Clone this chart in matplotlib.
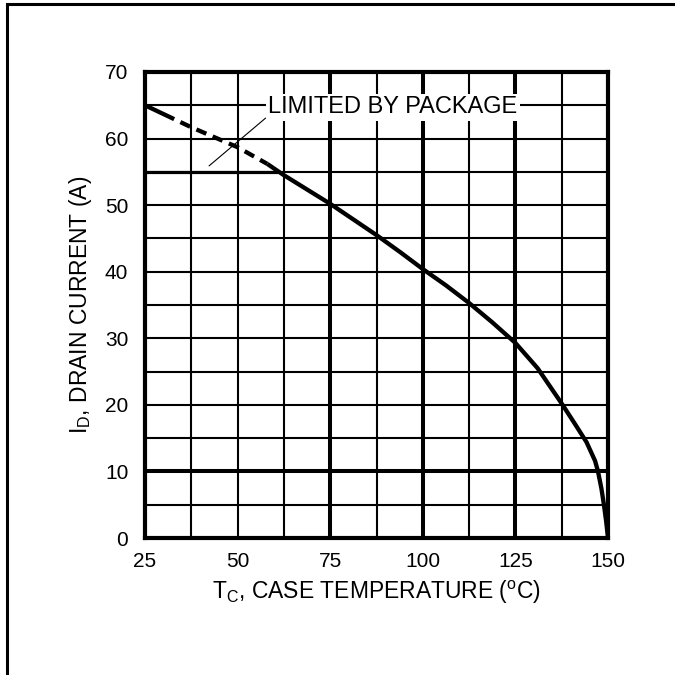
import numpy as np
import matplotlib

matplotlib.use("Agg")
import matplotlib.pyplot as plt
from matplotlib.patches import Rectangle

plt.rcParams["font.family"] = ["Liberation Sans", "DejaVu Sans"]
plt.rcParams["mathtext.default"] = "regular"

# derating curve
temp_dash = [25, 37.5, 50, 58]
cur_dash = [65, 61.7, 58.7, 56.2]
temp_solid = [58, 62.5, 75, 87.5, 93.75, 100, 106.25, 112.5, 118.75, 125, 131, 137.5,
              141, 144.2, 146.5, 147.3, 148.2, 148.9, 149.5, 150]
cur_solid = [56.2, 54.5, 50.2, 45.5, 43.0, 40.4, 37.95, 35.3, 32.4, 29.3, 25.5, 20.2,
             17.2, 14.4, 11.6, 10, 7.5, 5, 2.5, 0]
pkg_limit = 55
pkg_end = 60.5

x_ticks = [25, 50, 75, 100, 125, 150]
y_ticks = [0, 10, 20, 30, 40, 50, 60, 70]
x_grid = np.arange(25, 150.1, 12.5)
y_grid = np.arange(0, 70.1, 5)
x_thick = [75, 100, 125]
y_thick = [10]

fig = plt.figure(figsize=(6.75, 6.75), dpi=100)
ax = fig.add_axes([145 / 675, 1 - 538 / 675, (608 - 145) / 675, (538 - 72) / 675])
ax.set_xlim(25, 150)
ax.set_ylim(0, 70)

for gx in x_grid[1:-1]:
    ax.axvline(gx, color="black", lw=2.9 if gx in x_thick else 1.5, zorder=1)
for gy in y_grid[1:-1]:
    ax.axhline(gy, color="black", lw=2.9 if gy in y_thick else 1.5, zorder=1)

ax.plot([25, pkg_end], [pkg_limit, pkg_limit], color="black", lw=2.3, zorder=2)
ax.plot(temp_dash, cur_dash, color="black", lw=3.1,
        ls=(0, (7.5, 1.6, 2.5, 1.6, 2.5, 1.6, 2.5, 1.6, 2.5, 1.6, 2.5, 1.6)), zorder=3)
ax.plot(temp_solid, cur_solid, color="black", lw=3.1, zorder=3, solid_capstyle="butt")

ax.annotate("LIMITED BY PACKAGE", xy=(42.3, 55.9), xytext=(58.2, 64.7),
            fontsize=17, va="center", ha="left",
            bbox=dict(boxstyle="square,pad=0.1", fc="white", ec="none"),
            arrowprops=dict(arrowstyle="-", color="black", lw=0.8,
                            shrinkA=0, shrinkB=0, relpos=(0.0, 0.1)),
            zorder=4)

for sp in ax.spines.values():
    sp.set_linewidth(3)
ax.set_xticks(x_ticks)
ax.set_yticks(y_ticks)
ax.tick_params(length=0, labelsize=15, pad=10)
ax.tick_params(axis="y", pad=12)

ax.set_xlabel(r"T$_{C}$, CASE TEMPERATURE ($^{o}$C)", fontsize=16.5, labelpad=6)
ax.set_ylabel(r"I$_{D}$, DRAIN CURRENT (A)", fontsize=16.5, labelpad=8)

# outer frame of the datasheet figure
fig.patches.append(Rectangle((6.5 / 675, -0.1), 1.2, 1.1 - 4 / 675,
                             transform=fig.transFigure, fill=False,
                             ec="black", lw=2.2, clip_on=False))

fig.savefig("out.png", dpi=100)
